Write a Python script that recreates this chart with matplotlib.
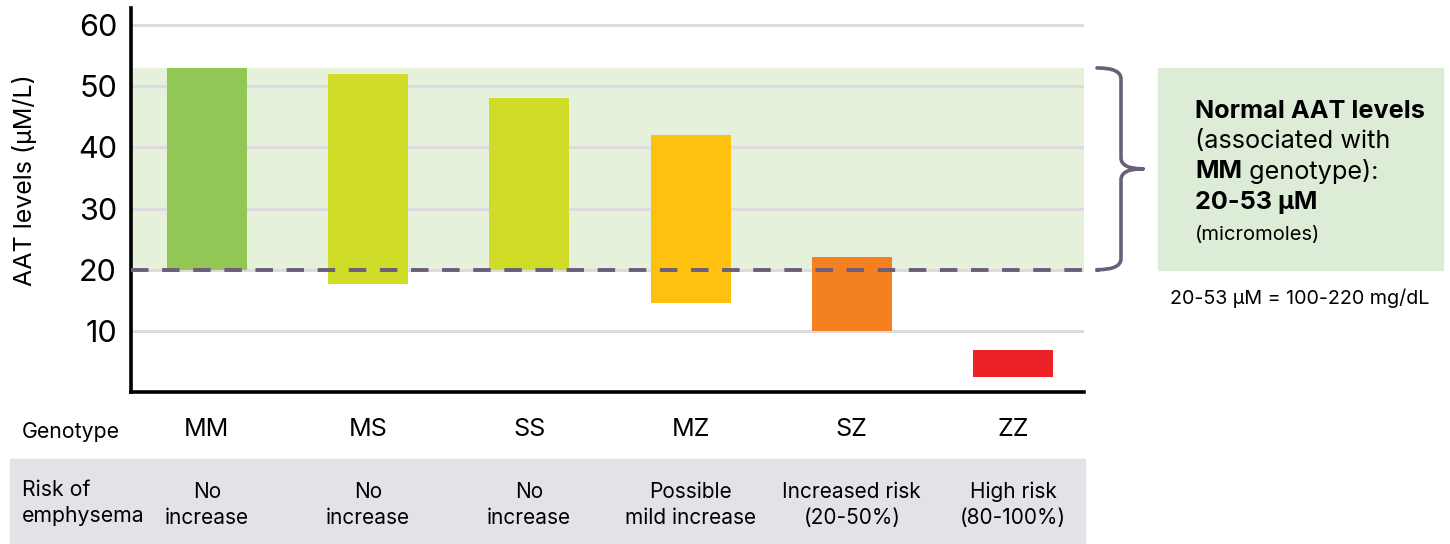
import matplotlib.pyplot as plt
import matplotlib.transforms as mtransforms
from matplotlib.patches import Rectangle, PathPatch
from matplotlib.path import Path

plt.rcParams['font.family'] = ['Inter', 'DejaVu Sans']

genotypes = ['MM', 'MS', 'SS', 'MZ', 'SZ', 'ZZ']
aat_low = [20, 17.7, 20, 14.6, 10, 2.4]
aat_high = [53, 52, 48, 42, 22.1, 6.8]
bar_colors = ['#93c755', '#cfdc28', '#cfdc28', '#fec110', '#f58020', '#ec2227']
risk_labels = ['No\nincrease', 'No\nincrease', 'No\nincrease',
               'Possible\nmild increase', 'Increased risk\n(20-50%)', 'High risk\n(80-100%)']
normal_low, normal_high = 20, 53
y_ticks = [10, 20, 30, 40, 50, 60]

W, H = 1450, 544
fig = plt.figure(figsize=(W / 100, H / 100), dpi=100)
ax = fig.add_axes([131 / W, 1 - 392 / H, (1084 - 131) / W, (392 - 8) / H])

x = list(range(len(genotypes)))
ax.set_xlim(-0.47, 5.44)
ax.set_ylim(0, 62.8)

# normal range band, grid, bars, threshold line
ax.axhspan(normal_low, normal_high, color='#e5f1da', zorder=0)
for t in y_ticks:
    ax.axhline(t, color='#dedbe0', lw=2.2, zorder=1)
heights = [h - l for h, l in zip(aat_high, aat_low)]
ax.bar(x, heights, bottom=aat_low, width=0.496, color=bar_colors, zorder=2)
ax.axhline(normal_low, xmin=0, xmax=1.017, color='#6a5e7a', lw=2.8,
           dashes=(4.5, 3.5), clip_on=False, zorder=3)

ax.set_yticks(y_ticks)
ax.set_yticklabels([str(t) for t in y_ticks], fontsize=22)
ax.tick_params(axis='y', length=0, pad=10)
ax.set_xticks(x)
ax.set_xticklabels(genotypes, fontsize=18)
ax.tick_params(axis='x', length=0, pad=19)
ax.set_ylabel('AAT levels (μM/L)', fontsize=18)
ax.yaxis.set_label_coords(-0.099, 0.552)

for side in ['top', 'right']:
    ax.spines[side].set_visible(False)
for side in ['left', 'bottom']:
    ax.spines[side].set_linewidth(2.6)
    ax.spines[side].set_color('black')

# curly brace spanning the normal range
bt = mtransforms.blended_transform_factory(fig.transFigure, ax.transData)
xl, xm, xt = 1097 / W, 1121 / W, 1143 / W
mid = (normal_low + normal_high) / 2
r = 1.8
verts = [(xl, normal_high), (xm, normal_high), (xm, normal_high - r),
         (xm, mid + r), (xm, mid), (xt, mid), (xt, mid),
         (xm, mid), (xm, mid - r), (xm, normal_low + r),
         (xm, normal_low), (xl, normal_low)]
codes = [Path.MOVETO, Path.CURVE3, Path.CURVE3,
         Path.LINETO, Path.CURVE3, Path.CURVE3,
         Path.MOVETO, Path.CURVE3, Path.CURVE3,
         Path.LINETO, Path.CURVE3, Path.CURVE3]
fig.add_artist(PathPatch(Path(verts, codes), transform=bt, fill=False,
                         edgecolor='#6a5e7a', lw=2.6, capstyle='round'))

# side note box
fig.add_artist(Rectangle((1158 / W, 1 - 270 / H), (1443 - 1158) / W, (270 - 68) / H,
                         transform=fig.transFigure, color='#dcecd6', zorder=0))
bx = 1195 / W
fs_box = 18.2
fig.text(bx, 1 - 111 / H, 'Normal AAT levels', fontsize=fs_box, fontweight='bold', va='center')
fig.text(bx, 1 - 141 / H, '(associated with', fontsize=fs_box, va='center')
mm = fig.text(bx, 1 - 172 / H, 'MM', fontsize=fs_box, fontweight='bold', va='center')
ax.annotate(' genotype):', xy=(1, 0), xycoords=mm, va='bottom', ha='left', fontsize=fs_box)
fig.text(bx, 1 - 202 / H, '20-53 μM', fontsize=fs_box, fontweight='bold', va='center')
fig.text(bx, 1 - 235 / H, '(micromoles)', fontsize=14.5, va='center')
fig.text(1170 / W, 1 - 298 / H, '20-53 μM = 100-220 mg/dL', fontsize=14.2, va='center')

# risk table under the axis
fig.add_artist(Rectangle((10 / W, 0), (1085 - 10) / W, 1 - 459 / H,
                         transform=fig.transFigure, color='#e4e2e6', zorder=0))
fig.text(22 / W, 1 - 432 / H, 'Genotype', fontsize=15.3, va='center')
fig.text(22 / W, 1 - 503 / H, 'Risk of\nemphysema', fontsize=15.3, va='center',
         linespacing=1.35)
tt = mtransforms.blended_transform_factory(ax.transData, fig.transFigure)
for xi, lab in zip(x, risk_labels):
    fig.text(xi, 1 - 505 / H, lab, transform=tt, fontsize=15, ha='center',
             va='center', linespacing=1.35)

fig.savefig('out.png', dpi=100)
